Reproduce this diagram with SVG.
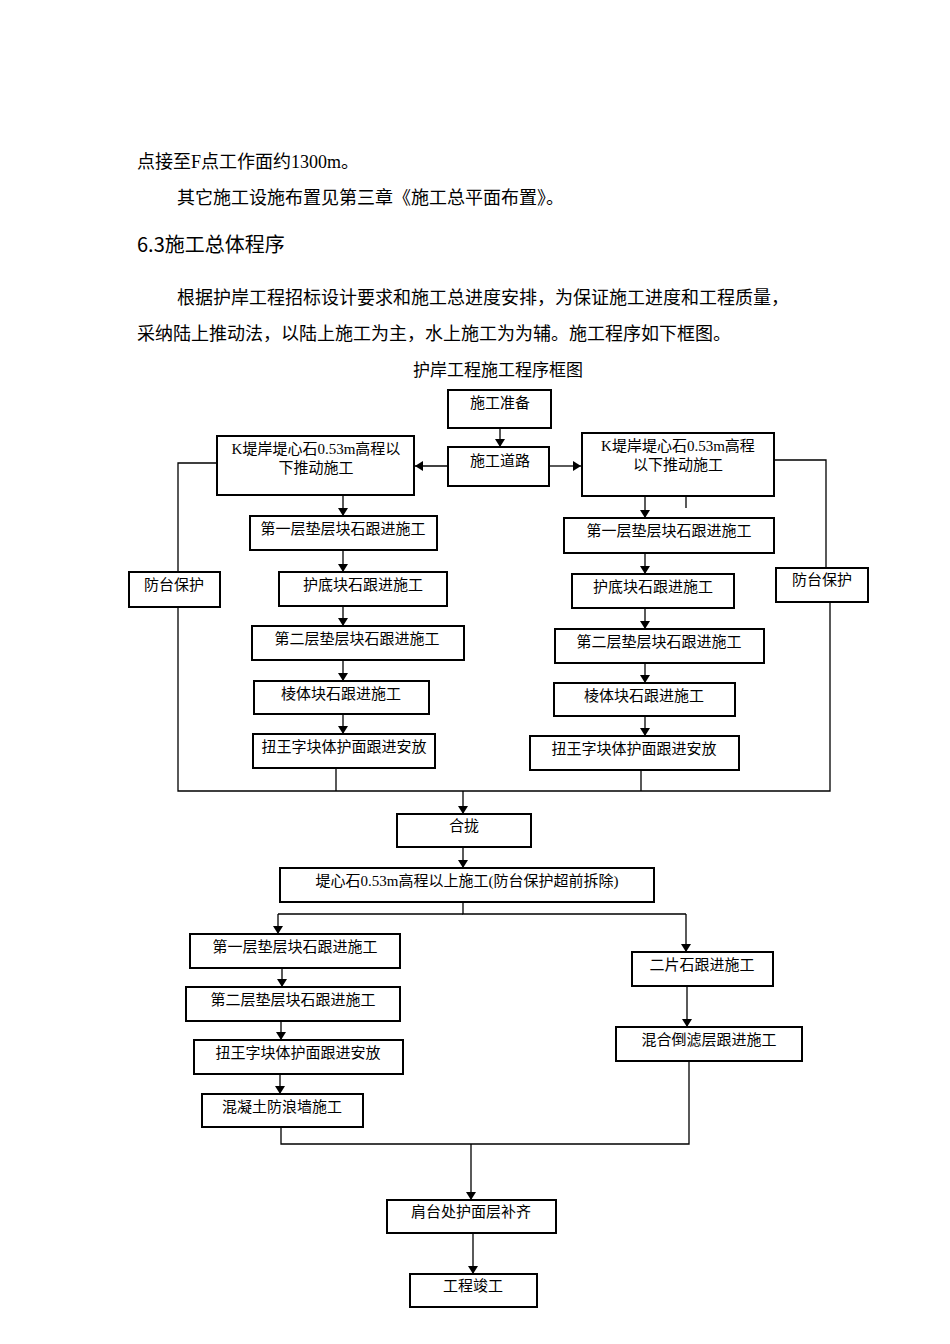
<svg xmlns="http://www.w3.org/2000/svg" width="950" height="1344" viewBox="0 0 950 1344">
<style>
.b{fill:#fff;stroke:#000;stroke-width:2}
.t{font-family:"Liberation Serif","Noto Sans CJK SC",serif;font-size:15px;fill:#000;text-anchor:middle}
.p{font-family:"Liberation Serif","Noto Sans CJK SC",serif;font-size:18px;fill:#000}
.c{fill:none;stroke:#000;stroke-width:1.3}
.a{marker-end:url(#ar)}
</style>
<defs><marker id="ar" markerWidth="8" markerHeight="12" refX="8" refY="6" orient="auto" markerUnits="userSpaceOnUse"><path d="M0,1 L8,6 L0,11 Z" fill="#000"/></marker></defs>
<rect width="950" height="1344" fill="#fff"/>
<text class="p" x="137" y="168">点接至F点工作面约1300m。</text>
<text class="p" x="177" y="204">其它施工设施布置见第三章《施工总平面布置》。</text>
<text x="137" y="252" style="font-family:'Noto Sans CJK SC',sans-serif;font-size:20px">6.3施工总体程序</text>
<text class="p" x="177" y="304">根据护岸工程招标设计要求和施工总进度安排，为保证施工进度和工程质量，</text>
<text class="p" x="137" y="340">采纳陆上推动法，以陆上施工为主，水上施工为为辅。施工程序如下框图。</text>
<text x="498" y="376" text-anchor="middle" style="font-family:'Noto Sans CJK SC',sans-serif;font-size:17px">护岸工程施工程序框图</text>
<g id="connectors">
<path class="c a" d="M500,428 V447"/>
<path class="c a" d="M448,466 H415"/>
<path class="c a" d="M549,466 H581"/>
<path class="c a" d="M343,495 V516"/>
<path class="c a" d="M343,550 V572"/>
<path class="c a" d="M343,606 V626"/>
<path class="c a" d="M343,660 V681"/>
<path class="c a" d="M343,714 V734"/>
<path class="c a" d="M645,496 V518"/>
<path class="c" d="M686,496 V508"/>
<path class="c a" d="M645,553 V574"/>
<path class="c a" d="M645,608 V629"/>
<path class="c a" d="M645,663 V683"/>
<path class="c a" d="M645,716 V736"/>
<path class="c" d="M217,463 H178 V572 M178,607 V791 H830 V602 M826,568 V460 H774"/>
<path class="c" d="M336,768 V791 M641,770 V791"/>
<path class="c a" d="M463,791 V814"/>
<path class="c a" d="M463,847 V868"/>
<path class="c" d="M463,902 V914 H686"/>
<path class="c a" d="M278,914 V934"/>
<path class="c" d="M278,914 H463"/>
<path class="c a" d="M686,914 V952"/>
<path class="c a" d="M282,968 V987"/>
<path class="c a" d="M281,1021 V1040"/>
<path class="c a" d="M280,1074 V1094"/>
<path class="c a" d="M687,986 V1027"/>
<path class="c" d="M281,1127 V1144 H689 V1061"/>
<path class="c a" d="M471,1144 V1200"/>
<path class="c a" d="M473,1233 V1274"/>
</g>
<g id="n1"><rect class="b" x="448" y="390" width="103" height="38"/><text class="t" x="500" y="408">施工准备</text></g>
<g id="n2"><rect class="b" x="448" y="447" width="101" height="39"/><text class="t" x="500" y="466">施工道路</text></g>
<g id="kl"><rect class="b" x="217" y="436" width="197" height="59"/><text class="t" x="316" y="454">K堤岸堤心石0.53m高程以</text><text class="t" x="316" y="473">下推动施工</text></g>
<g id="kr"><rect class="b" x="582" y="433" width="192" height="63"/><text class="t" x="678" y="451">K堤岸堤心石0.53m高程</text><text class="t" x="678" y="470">以下推动施工</text></g>
<g id="l1"><rect class="b" x="250" y="516" width="187" height="34"/><text class="t" x="343" y="534">第一层垫层块石跟进施工</text></g>
<g id="l2"><rect class="b" x="279" y="572" width="168" height="34"/><text class="t" x="363" y="590">护底块石跟进施工</text></g>
<g id="l3"><rect class="b" x="252" y="626" width="212" height="34"/><text class="t" x="357" y="644">第二层垫层块石跟进施工</text></g>
<g id="l4"><rect class="b" x="254" y="681" width="175" height="33"/><text class="t" x="341" y="699">棱体块石跟进施工</text></g>
<g id="l5"><rect class="b" x="253" y="734" width="182" height="34"/><text class="t" x="344" y="752">扭王字块体护面跟进安放</text></g>
<g id="r1"><rect class="b" x="564" y="518" width="210" height="35"/><text class="t" x="669" y="536">第一层垫层块石跟进施工</text></g>
<g id="r2"><rect class="b" x="572" y="574" width="162" height="34"/><text class="t" x="653" y="592">护底块石跟进施工</text></g>
<g id="r3"><rect class="b" x="555" y="629" width="209" height="34"/><text class="t" x="659" y="647">第二层垫层块石跟进施工</text></g>
<g id="r4"><rect class="b" x="554" y="683" width="181" height="33"/><text class="t" x="644" y="701">棱体块石跟进施工</text></g>
<g id="r5"><rect class="b" x="530" y="736" width="209" height="34"/><text class="t" x="634" y="754">扭王字块体护面跟进安放</text></g>
<g id="pl"><rect class="b" x="129" y="572" width="91" height="35"/><text class="t" x="174" y="590">防台保护</text></g>
<g id="pr"><rect class="b" x="776" y="568" width="92" height="34"/><text class="t" x="822" y="585">防台保护</text></g>
<g id="hl"><rect class="b" x="397" y="814" width="134" height="33"/><text class="t" x="464" y="831">合拢</text></g>
<g id="dx"><rect class="b" x="280" y="868" width="374" height="34"/><text class="t" x="467" y="886">堤心石0.53m高程以上施工(防台保护超前拆除)</text></g>
<g id="b1"><rect class="b" x="190" y="934" width="210" height="34"/><text class="t" x="295" y="952">第一层垫层块石跟进施工</text></g>
<g id="b2"><rect class="b" x="186" y="987" width="214" height="34"/><text class="t" x="293" y="1005">第二层垫层块石跟进施工</text></g>
<g id="b3"><rect class="b" x="194" y="1040" width="209" height="34"/><text class="t" x="298" y="1058">扭王字块体护面跟进安放</text></g>
<g id="b4"><rect class="b" x="202" y="1094" width="161" height="33"/><text class="t" x="282" y="1112">混凝土防浪墙施工</text></g>
<g id="e1"><rect class="b" x="632" y="952" width="141" height="34"/><text class="t" x="702" y="970">二片石跟进施工</text></g>
<g id="e2"><rect class="b" x="616" y="1027" width="186" height="34"/><text class="t" x="709" y="1045">混合倒滤层跟进施工</text></g>
<g id="jt"><rect class="b" x="387" y="1200" width="169" height="33"/><text class="t" x="471" y="1217">肩台处护面层补齐</text></g>
<g id="end"><rect class="b" x="410" y="1274" width="127" height="33"/><text class="t" x="473" y="1291">工程竣工</text></g>
</svg>
